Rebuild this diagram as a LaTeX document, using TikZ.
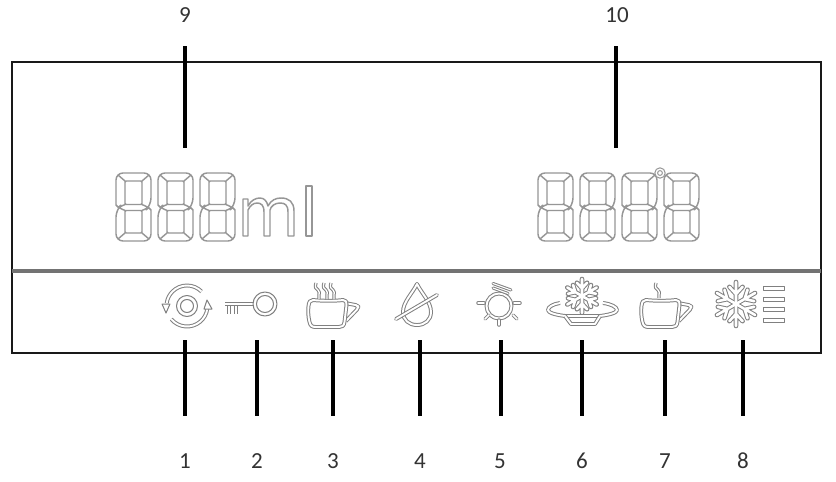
\documentclass[tikz,border=0pt]{standalone}
\usepackage{fontspec}
\setmainfont[Numbers=Lining]{Carlito}
\definecolor{seg}{HTML}{969696}
\definecolor{icon}{HTML}{808080}
\tikzset{
  segline/.style={draw=seg,line width=1.45pt,line join=round},
  dbl/.style={draw=icon,line width=1pt,double=white,double distance=1.9pt,line join=round},
  thinicon/.style={draw=icon,line width=1pt,line join=round},
  leader/.style={draw=black,line width=3.8pt},
  numlabel/.style={font=\fontsize{23}{26}\selectfont,text=black!80,inner sep=0pt},
}
\newcommand{\segdigit}[2]{%
\begin{scope}[shift={(#1,#2)}]
  \draw[segline] (0,32) [rounded corners=7pt] -- (0,0) -- (35,0) -- (35,32) [sharp corners] -- (32.5,34.5) -- (35,37) [rounded corners=7pt] -- (35,68) -- (0,68) -- (0,37) [sharp corners] -- (2.5,34.5) -- cycle;
  \draw[segline,rounded corners=1pt] (9,8) rectangle (26,31.5);
  \draw[segline,rounded corners=1pt] (9,37.5) rectangle (26,60);
  \draw[segline] (2,2) -- (9,8) (33,2) -- (26,8) (2,66) -- (9,60) (33,66) -- (26,60);
  \draw[segline] (2.5,34.5) -- (9,31.5) (32.5,34.5) -- (26,31.5) (2.5,34.5) -- (9,37.5) (32.5,34.5) -- (26,37.5);
\end{scope}}
\newcommand{\cupbody}[2]{%
\begin{scope}[shift={(#1,#2)}]
  \draw[dbl,rounded corners=2pt] (37,3) -- (50,5.5) -- (50.5,8) -- (38,21);
  \draw[dbl,fill=white] (5,0) .. controls (14,1) and (28,1) .. (35,0) .. controls (38,0) and (39,2) .. (38.5,5) -- (36.5,22) .. controls (36,26) and (34,27) .. (31,27) -- (8,27) .. controls (4,27) and (2.5,26) .. (1.5,22) .. controls (0,16) and (0,10) .. (0.5,6) .. controls (1,2) and (2,0) .. (5,0) -- cycle;
\end{scope}}
\newcommand{\steam}[3]{%
  \draw[dbl,double distance=1.3pt] (#1,#2) .. controls (#1-1.5,#2+4) and (#1+0,#2+6) .. (#1+2,#2+7) .. controls (#1+5,#2+8.5) and (#1+2,#2+10) .. (#1+3,#2+12) -- (#1+3,#3);}
\newcommand{\flakepaths}[1]{%
  \foreach \a in {0,60,...,300}{
    \draw[#1,rotate around={\a:(0,0)}] (0,0) -- (0,-1) (0,-.45) -- (-.3,-.78) (0,-.45) -- (.3,-.78);
  }}
\newcommand{\flake}[3]{%
\begin{scope}[shift={(#1,#2)},x=#3pt,y=#3pt]
  \flakepaths{draw=icon,line width=4.6pt,line cap=round}
  \flakepaths{draw=white,line width=2.6pt,line cap=round}
\end{scope}}
\begin{document}
\begin{tikzpicture}[x=1pt,y=1pt,yscale=-1]
\useasboundingbox (0,0) rectangle (836,482);
\fill[white] (0,0) rectangle (836,482);
% frame
\draw[black!90,line width=1.9pt] (12,62) rectangle (821,353);
\draw[draw=black!55,line width=3.2pt] (12,271) -- (821,271);
% digits
\segdigit{116}{173}\segdigit{158}{173}\segdigit{200}{173}
\segdigit{538}{173}\segdigit{580}{173}\segdigit{622}{173}\segdigit{664}{173}
% ml
\draw[segline,fill=white] (243,199) -- (248,199) -- (248,206) .. controls (251,200) and (256,198) .. (260,198) .. controls (264,198) and (267,201) .. (268,206) .. controls (271,200) and (276,198) .. (281,198) .. controls (289,198) and (294,202) .. (294,211) -- (294,236) -- (288,236) -- (288,212) .. controls (288,205) and (285,203) .. (280,203) .. controls (275,203) and (271,206) .. (270,210) -- (270,236) -- (264,236) -- (264,212) .. controls (264,205) and (261,203) .. (257,203) .. controls (253,203) and (250,206) .. (248,210) -- (248,236) -- (243,236) -- cycle;
\draw[segline,fill=white] (306,186) rectangle (312,236);
% degree
\draw[segline,fill=white,line width=1pt] (660,173) circle[radius=5.2pt];
\draw[segline,line width=1pt] (660,173) circle[radius=2.4pt];
% icon 1
\draw[dbl] ([shift={(-45:20.5pt)}]187,306) arc[start angle=-45,end angle=-172,radius=20.5pt];
\draw[dbl] ([shift={(140:20.5pt)}]187,306) arc[start angle=140,end angle=8,radius=20.5pt];
\draw[thinicon,fill=white] (162,304) -- (170,304) -- (166,313) -- cycle;
\draw[thinicon,fill=white] (204,309) -- (212,309) -- (207,300) -- cycle;
\draw[thinicon] (187,306) circle[radius=10.5pt] (187,306) circle[radius=6.5pt];
% icon 2
\draw[dbl] (229,313.5) -- (229,304.5);
\draw[dbl] (236,313.5) -- (236,304.5);
\draw[dbl] (225,304) -- (254,304);
\draw[thinicon,fill=white] (265,304) circle[radius=12pt];
\draw[thinicon] (265,304) circle[radius=8.5pt];
% icon 3
\cupbody{308}{300}
\steam{316}{283}{299}\steam{324}{283}{299}\steam{331}{283}{299}
% icon 4
\draw[dbl] (417,284) .. controls (412,294) and (403,302) .. (403,312) .. controls (403,320) and (409,325) .. (417,325) .. controls (425,325) and (431,320) .. (431,312) .. controls (431,302) and (422,294) .. (417,284) -- cycle;
\draw[dbl,line cap=round] (396,319) -- (437,295);
% icon 5
\draw[dbl] (499,306) circle[radius=12.5pt];
\draw[dbl,line cap=round,double distance=1.5pt] (478,303) -- (484,303);
\draw[dbl,line cap=round,double distance=1.5pt] (514,303) -- (520,303);
\draw[dbl,line cap=round,double distance=1.5pt] (485,319) -- (489,315);
\draw[dbl,line cap=round,double distance=1.5pt] (513,315) -- (517,319);
\draw[dbl,line cap=round,double distance=1.5pt] (499,320) -- (499,325);
\draw[dbl,double distance=1.1pt,line cap=round] (493,283.5) -- (511,290);
\draw[dbl,double distance=1.1pt,line cap=round] (493,288) -- (508,293.5);
% icon 6
\flake{582}{296}{17}
\draw[dbl] (560,303) .. controls (553,304) and (548,307) .. (548,310) .. controls (548,313) and (557,315) .. (565,316) -- (600,316) .. controls (608,315) and (617,313) .. (617,310) .. controls (617,307) and (611,304) .. (603,303);
\draw[dbl] (565,316) -- (571,324) -- (595,324) -- (600,316);
% icon 7
\cupbody{641}{300}
\steam{656}{283}{298}
% icon 8
\flake{736}{304}{22}
\foreach \yy in {288,299,309,320}{\draw[thinicon,fill=white] (763.5,\yy-2) rectangle (784,\yy+2);}
% leaders
\coordinate (s9) at (185,46); \coordinate (e9) at (185,148);
\coordinate (s10) at (616,46); \coordinate (e10) at (616,148);
\coordinate (s1) at (185,340); \coordinate (e1) at (185,416);
\coordinate (s2) at (257,340); \coordinate (e2) at (257,416);
\coordinate (s3) at (333,340); \coordinate (e3) at (333,416);
\coordinate (s4) at (420,340); \coordinate (e4) at (420,416);
\coordinate (s5) at (501,340); \coordinate (e5) at (501,416);
\coordinate (s6) at (582,340); \coordinate (e6) at (582,416);
\coordinate (s7) at (665,340); \coordinate (e7) at (665,416);
\coordinate (s8) at (743,340); \coordinate (e8) at (743,416);
\foreach \k in {1,...,10}{\draw[leader] (s\k) -- (e\k);}
% labels
\node[numlabel] (n9) at (185,15) {9};
\node[numlabel] (n10) at (617,15) {10};
\node[numlabel] (n1) at (185,461) {1};
\node[numlabel] (n2) at (257,461) {2};
\node[numlabel] (n3) at (333,461) {3};
\node[numlabel] (n4) at (420,461) {4};
\node[numlabel] (n5) at (500,461) {5};
\node[numlabel] (n6) at (582,461) {6};
\node[numlabel] (n7) at (665,461) {7};
\node[numlabel] (n8) at (743,461) {8};
\end{tikzpicture}
\end{document}
